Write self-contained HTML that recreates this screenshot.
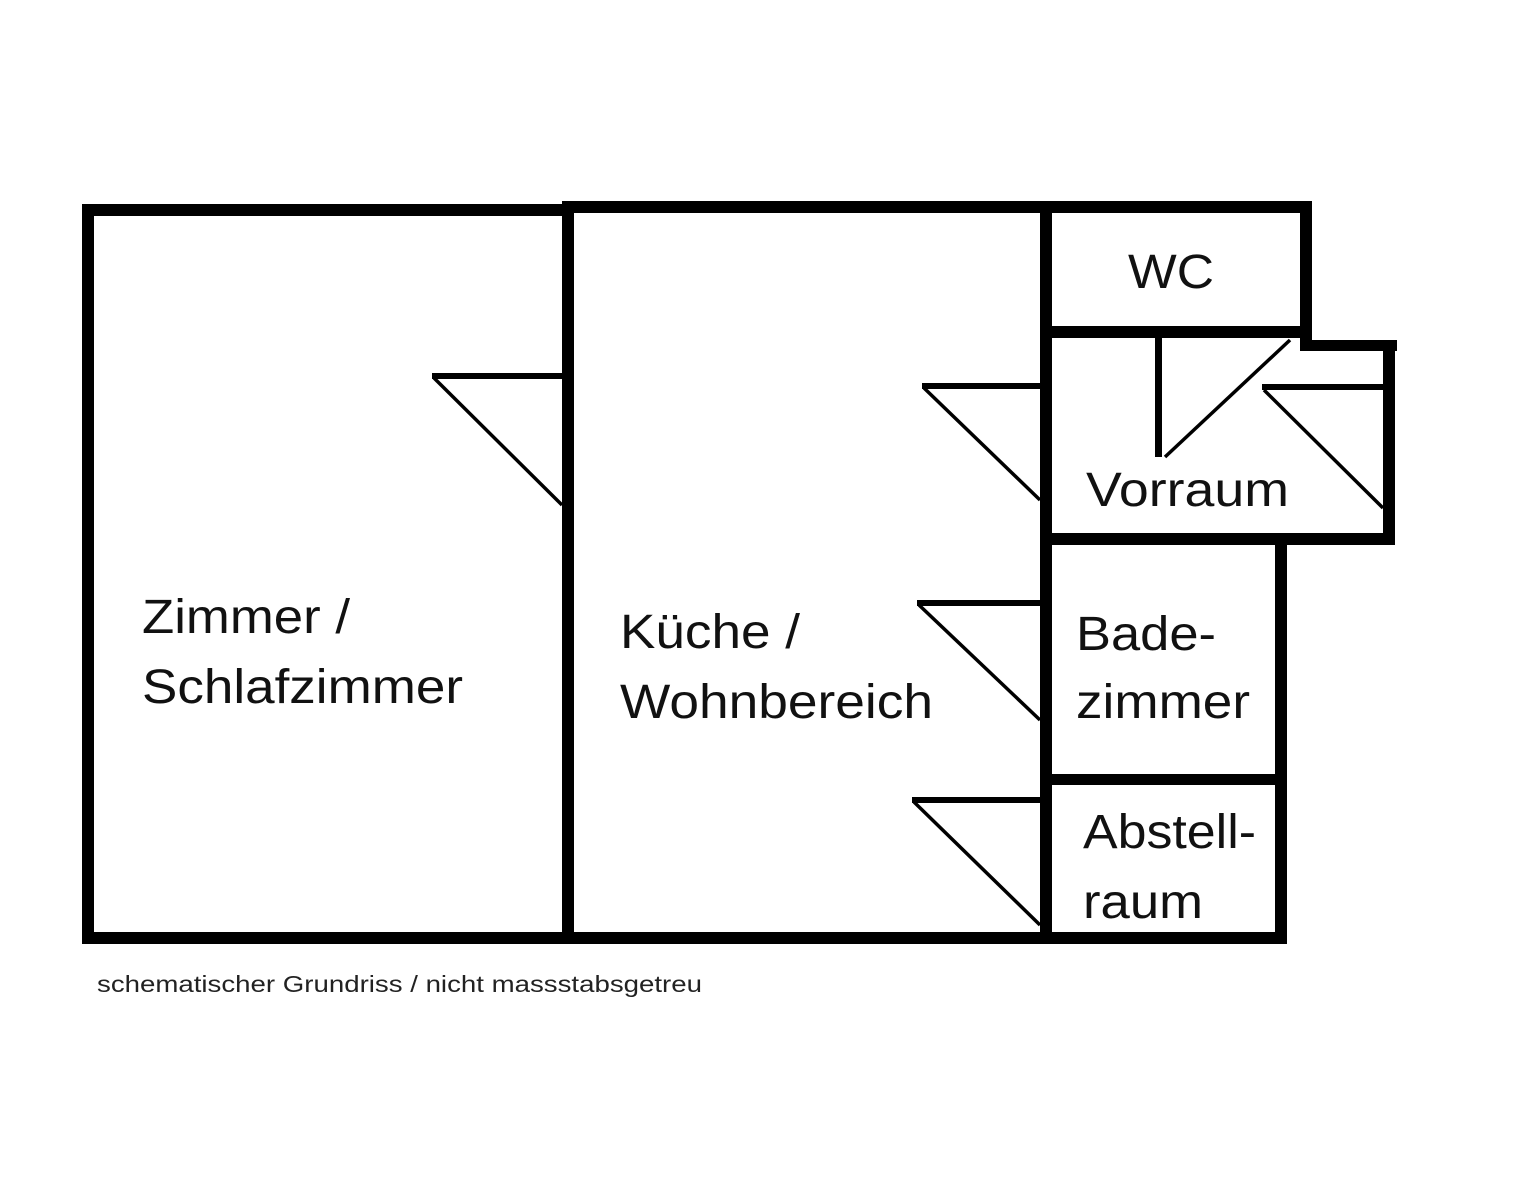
<!DOCTYPE html>
<html><head><meta charset="utf-8"><style>
html,body{margin:0;padding:0;background:#fff;}
svg{display:block}
text{font-family:"Liberation Sans",Arial,sans-serif;fill:#111;}
</style></head><body>
<svg width="1536" height="1188" viewBox="0 0 1536 1188" xmlns="http://www.w3.org/2000/svg">
<g fill="#000">
<rect x="82" y="204" width="486" height="12"/>
<rect x="82" y="204" width="12" height="740"/>
<rect x="82" y="932" width="970" height="12"/>
<rect x="562" y="201" width="12" height="743"/>
<rect x="562" y="201" width="750" height="12"/>
<rect x="1040" y="201" width="12" height="743"/>
<rect x="1300" y="201" width="12" height="150"/>
<rect x="1046" y="326" width="266" height="12"/>
<rect x="1300" y="340" width="97" height="11"/>
<rect x="1383" y="340" width="12" height="205"/>
<rect x="1046" y="533" width="349" height="12"/>
<rect x="1275" y="533" width="12" height="411"/>
<rect x="1046" y="774" width="241" height="11"/>
<rect x="1046" y="932" width="241" height="12"/>
<rect x="432" y="373" width="130" height="6"/>
<rect x="922" y="383" width="118" height="6"/>
<rect x="917" y="600" width="123" height="6"/>
<rect x="912" y="797" width="128" height="6"/>
<rect x="1262" y="384" width="121" height="6"/>
<rect x="1155" y="338" width="7" height="119"/>
</g>
<g stroke="#000" stroke-width="3.5" fill="none">
<line x1="434" y1="378" x2="562" y2="505"/>
<line x1="924" y1="388" x2="1040" y2="500"/>
<line x1="919" y1="605" x2="1040" y2="720"/>
<line x1="914" y1="802" x2="1040" y2="925"/>
<line x1="1264" y1="390" x2="1383" y2="508"/>
<line x1="1165" y1="457" x2="1290" y2="340"/>
</g>
<g font-size="48" lengthAdjust="spacingAndGlyphs">
<text x="142" y="633" textLength="208" lengthAdjust="spacingAndGlyphs">Zimmer /</text>
<text x="142" y="703" textLength="321" lengthAdjust="spacingAndGlyphs">Schlafzimmer</text>
<text x="620" y="648" textLength="180" lengthAdjust="spacingAndGlyphs">Küche /</text>
<text x="620" y="718" textLength="313" lengthAdjust="spacingAndGlyphs">Wohnbereich</text>
<text x="1128" y="288" textLength="86" lengthAdjust="spacingAndGlyphs">WC</text>
<text x="1086" y="506" textLength="203" lengthAdjust="spacingAndGlyphs">Vorraum</text>
<text x="1076" y="650" textLength="140" lengthAdjust="spacingAndGlyphs">Bade-</text>
<text x="1076" y="718" textLength="174" lengthAdjust="spacingAndGlyphs">zimmer</text>
<text x="1083" y="848" textLength="173" lengthAdjust="spacingAndGlyphs">Abstell-</text>
<text x="1083" y="918" textLength="120" lengthAdjust="spacingAndGlyphs">raum</text>
</g>
<text x="97" y="992" font-size="23" textLength="605" lengthAdjust="spacingAndGlyphs" style="fill:#222">schematischer Grundriss / nicht massstabsgetreu</text>
</svg>
</body></html>
